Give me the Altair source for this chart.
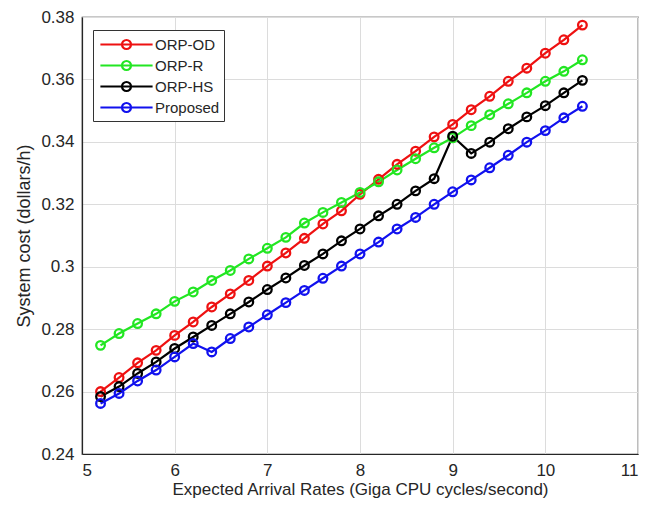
import altair as alt
import pandas as pd

x_vals = [round(5.2 + 0.2 * i, 1) for i in range(27)]

orp_od = [0.2600, 0.2645, 0.2692, 0.2732, 0.2780, 0.2823, 0.2871, 0.2913, 0.2956,
          0.3002, 0.3044, 0.3091, 0.3137, 0.3179, 0.3232, 0.3280, 0.3328, 0.3370,
          0.3416, 0.3456, 0.3503, 0.3546, 0.3594, 0.3636, 0.3684, 0.3727, 0.3774]
orp_r = [0.2748, 0.2786, 0.2818, 0.2849, 0.2889, 0.2919, 0.2956, 0.2988, 0.3025,
         0.3059, 0.3094, 0.3140, 0.3174, 0.3206, 0.3238, 0.3272, 0.3310, 0.3346,
         0.3381, 0.3413, 0.3452, 0.3487, 0.3522, 0.3557, 0.3594, 0.3626, 0.3663]
orp_hs = [0.2584, 0.2616, 0.2658, 0.2695, 0.2738, 0.2775, 0.2812, 0.2849, 0.2887,
          0.2927, 0.2964, 0.3004, 0.3041, 0.3083, 0.3121, 0.3163, 0.3200, 0.3243,
          0.3282, 0.3418, 0.3363, 0.3399, 0.3442, 0.3480, 0.3516, 0.3557, 0.3597]
proposed = [0.2562, 0.2594, 0.2634, 0.2669, 0.2711, 0.2754, 0.2727, 0.2770, 0.2807,
            0.2846, 0.2885, 0.2924, 0.2963, 0.3002, 0.3041, 0.3079, 0.3121, 0.3158,
            0.3200, 0.3240, 0.3278, 0.3317, 0.3357, 0.3399, 0.3436, 0.3477, 0.3514]

series_names = ["ORP-OD", "ORP-R", "ORP-HS", "Proposed"]
series_colors = ["#ee1111", "#22e622", "#000000", "#1111ee"]
series_values = [orp_od, orp_r, orp_hs, proposed]

x_ticks = [5, 6, 7, 8, 9, 10, 11]
y_ticks = [0.24, 0.26, 0.28, 0.30, 0.32, 0.34, 0.36, 0.38]

rows = []
for k, (name, vals) in enumerate(zip(series_names, series_values)):
    for xv, yv in zip(x_vals, vals):
        rows.append({"x": xv, "y": yv, "series": name, "order": k})
df = pd.DataFrame(rows)

legend_symbol = "M-2.9,0L2.9,0M-0.5,0A0.5,0.5,0,1,1,0.5,0A0.5,0.5,0,1,1,-0.5,0"

font = "Liberation Sans"
txt = "#262626"

chart = alt.Chart(df).mark_line(
    strokeWidth=2.2,
    point=alt.OverlayMarkDef(filled=False, size=75, strokeWidth=2.3),
).encode(
    x=alt.X("x:Q",
            scale=alt.Scale(domain=[5, 11], nice=False),
            axis=alt.Axis(values=x_ticks, format="d",
                          title="Expected Arrival Rates (Giga CPU cycles/second)",
                          titleFontSize=17,
                          titlePadding=3, labelPadding=8)),
    y=alt.Y("y:Q",
            scale=alt.Scale(domain=[0.24, 0.38], nice=False, zero=False),
            axis=alt.Axis(values=y_ticks, format="~g",
                          title="System cost (dollars/h)",
                          titlePadding=7, labelPadding=8)),
    color=alt.Color("series:N",
                    scale=alt.Scale(domain=series_names, range=series_colors),
                    sort=series_names,
                    legend=alt.Legend(title=None, orient="none",
                                      legendX=11, legendY=13,
                                      symbolType=legend_symbol,
                                      symbolSize=324,
                                      symbolStrokeWidth=2.2,
                                      symbolFillColor="transparent",
                                      symbolOffset=19,
                                      labelFontSize=15,
                                      labelFont=font,
                                      labelColor=txt,
                                      rowPadding=1,
                                      labelOffset=18,
                                      padding=4,
                                      strokeColor="#333333",
                                      fillColor="white")),
    detail="series:N",
    order=alt.Order("order:Q"),
).properties(
    width=556,
    height=437,
    autosize=alt.AutoSizeParams(type="none"),
    padding={"left": 74, "top": 9, "right": 12, "bottom": 51},
).configure_view(
    stroke="#262626", strokeWidth=1.2
).configure_axis(
    labelFont=font, titleFont=font,
    labelFontSize=17, titleFontSize=18,
    labelColor=txt, titleColor=txt,
    titleFontWeight="normal",
    gridColor="#dcdcdc", gridWidth=1,
    domainColor="#262626", domainWidth=1.2,
    ticks=False,
)

chart.save("out.html", embed_options={"renderer": "svg", "actions": False})
